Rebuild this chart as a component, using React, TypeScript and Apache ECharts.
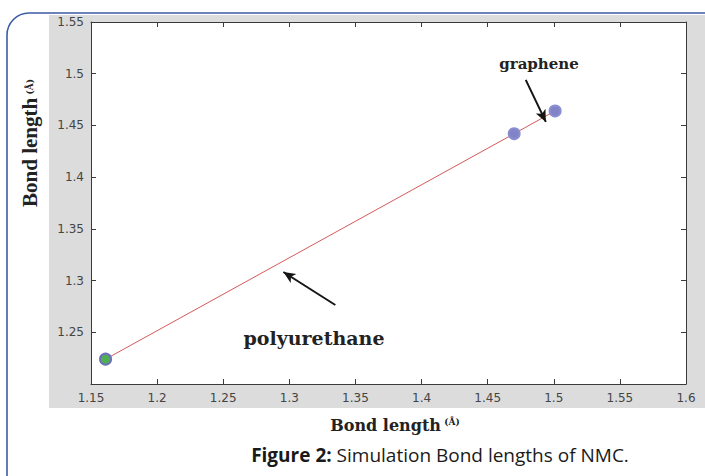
import React, { useEffect, useRef } from 'react';
import * as echarts from 'echarts';

const bondX = [1.161, 1.47, 1.501];
const bondY = [1.224, 1.442, 1.464];
const pointFill = ['#4fae52', '#8084c6', '#8084c6'];
const pointBorder = ['#6c70b8', '#8a8ed0', '#8a8ed0'];
const xRange = [1.15, 1.6];
const yRange = [1.2, 1.55];
const tickStep = 0.05;
const arrowPoly = [[1.3348, 1.2764], [1.2955, 1.3083]];
const arrowGraph = [[1.4788, 1.494], [1.494, 1.4534]];
const labelPoly = 'polyurethane';
const labelGraph = 'graphene';
const axisTitle = 'Bond length';
const unit = '(Å)';
const captionBold = 'Figure 2:';
const captionRest = ' Simulation Bond lengths of NMC.';

const fmt = (v: number) => String(+v.toFixed(2));

export default function App() {
  const ref = useRef<HTMLDivElement>(null);
  useEffect(() => {
    if (!ref.current) return;
    const chart = echarts.init(ref.current, null, { renderer: 'svg' });
    const axisCommon = {
      type: 'value' as const,
      interval: tickStep,
      splitLine: { show: false },
      axisLine: { show: true, onZero: false, lineStyle: { color: '#3a3a3a', width: 1 } },
      axisTick: { show: true, inside: true, length: 5, lineStyle: { color: '#3a3a3a' } },
    };
    const labelStyle = { color: '#444', fontFamily: 'DejaVu Sans', fontSize: 12, formatter: fmt };
    chart.setOption({
      animation: false,
      backgroundColor: '#ffffff',
      grid: {
        left: 91, right: 19, top: 22, bottom: 92,
        show: true, backgroundColor: '#ffffff', borderWidth: 0,
        containLabel: false, outerBoundsMode: 'none',
      },
      xAxis: [
        { ...axisCommon, min: xRange[0], max: xRange[1], position: 'bottom',
          axisLabel: { ...labelStyle, margin: 8 } },
        { ...axisCommon, min: xRange[0], max: xRange[1], position: 'top',
          axisLabel: { show: false } },
      ],
      yAxis: [
        { ...axisCommon, min: yRange[0], max: yRange[1], position: 'left',
          axisLabel: { ...labelStyle, margin: 7, showMinLabel: false } },
        { ...axisCommon, min: yRange[0], max: yRange[1], position: 'right',
          axisLabel: { show: false } },
      ],
      series: [
        {
          type: 'line',
          xAxisIndex: 0,
          yAxisIndex: 0,
          data: bondX.map((x, i) => ({
            value: [x, bondY[i]],
            itemStyle: { color: pointFill[i], borderColor: pointBorder[i], borderWidth: 2 },
          })),
          symbol: 'circle',
          symbolSize: 11,
          showSymbol: true,
          lineStyle: { color: '#d45a5a', width: 1 },
          z: 3,
          markLine: {
            silent: true,
            symbol: ['none', 'arrow'],
            symbolSize: [8, 12],
            lineStyle: { color: '#151515', width: 2, type: 'solid' },
            label: { show: false },
            data: [
              [{ coord: arrowPoly[0] }, { coord: arrowPoly[1] }],
              [{ coord: arrowGraph[0] }, { coord: arrowGraph[1] }],
            ],
          },
        },
      ],
      graphic: [
        { type: 'rect', z: -10, shape: { x: 49, y: 15, width: 670, height: 393 }, style: { fill: '#dcdcdc' } },
        { type: 'rect', z: 50, shape: { x: 0, y: 0, width: 705, height: 15 }, style: { fill: '#ffffff' } },
        { type: 'rect', z: 60, shape: { x: 7, y: 13, width: 720, height: 490, r: 22 },
          style: { fill: 'none', stroke: '#3d5ba8', lineWidth: 1.6 } },
        { type: 'text', z: 60, x: 539, y: 64,
          style: { text: labelGraph, font: 'bold 15px "DejaVu Serif"', fill: '#222', textAlign: 'center', textVerticalAlign: 'middle' } },
        { type: 'text', z: 60, x: 314, y: 338,
          style: { text: labelPoly, font: 'bold 19px "DejaVu Serif"', fill: '#222', textAlign: 'center', textVerticalAlign: 'middle' } },
        { type: 'text', z: 60, x: 395, y: 425,
          style: {
            text: '{a|' + axisTitle + '} {b|' + unit + '}',
            textAlign: 'center', textVerticalAlign: 'middle',
            rich: {
              a: { fontFamily: 'DejaVu Serif', fontWeight: 'bold', fontSize: 16, fill: '#222', color: '#222' },
              b: { fontFamily: 'DejaVu Serif', fontWeight: 'bold', fontSize: 9, fill: '#222', color: '#222', verticalAlign: 'top', padding: [0, 0, 6, 0] },
            },
          } },
        { type: 'text', z: 60, x: 30, y: 143, rotation: Math.PI / 2,
          style: {
            text: '{a|' + axisTitle + '} {b|' + unit + '}',
            textAlign: 'center', textVerticalAlign: 'middle',
            rich: {
              a: { fontFamily: 'Liberation Serif', fontWeight: 'bold', fontSize: 21, fill: '#222', color: '#222' },
              b: { fontFamily: 'DejaVu Serif', fontWeight: 'bold', fontSize: 9, fill: '#222', color: '#222' },
            },
          } },
        { type: 'text', z: 60, x: 440, y: 455,
          style: {
            text: '{b|' + captionBold + '}{r|' + captionRest + '}',
            textAlign: 'center', textVerticalAlign: 'middle',
            rich: {
              b: { fontFamily: 'Open Sans', fontWeight: 'bold', fontSize: 19, fill: '#1a1a1a', color: '#1a1a1a' },
              r: { fontFamily: 'Open Sans', fontSize: 19, fill: '#1a1a1a', color: '#1a1a1a' },
            },
          } },
      ],
    });
    return () => chart.dispose();
  }, []);
  return <div ref={ref} style={{ position: 'fixed', left: 0, top: 0, width: 705, height: 476 }} />;
}
